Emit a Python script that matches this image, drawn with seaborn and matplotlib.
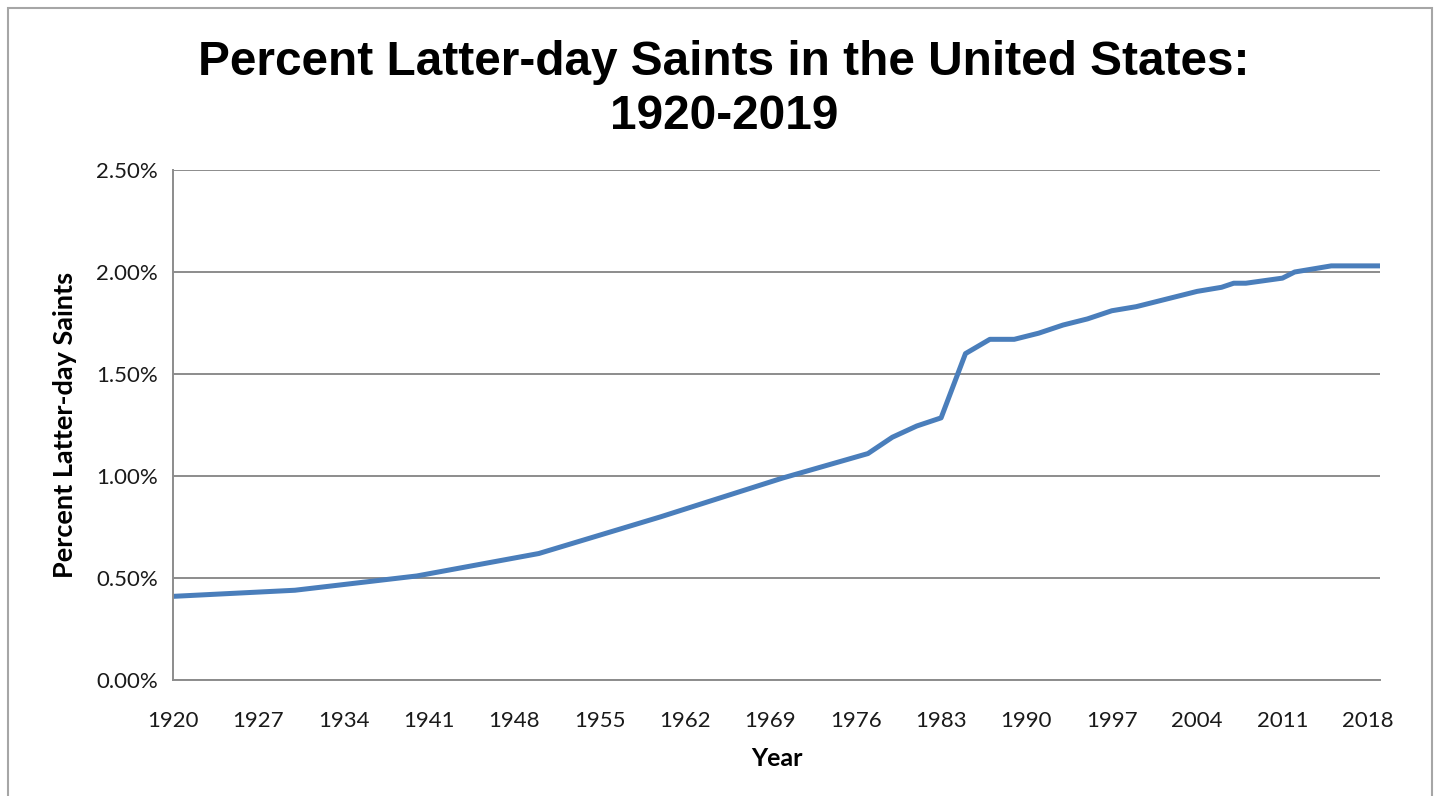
import seaborn as sns
import matplotlib.pyplot as plt
import pandas as pd
from matplotlib.patches import Rectangle
from matplotlib.ticker import FuncFormatter

# values (percent of US population)
years = [1920, 1930, 1940, 1950, 1960, 1970, 1977, 1979, 1981, 1983, 1985, 1987,
         1989, 1991, 1993, 1995, 1997, 1999, 2001, 2004, 2006, 2007, 2008, 2011,
         2012, 2015, 2019]
pct_lds = [0.41, 0.44, 0.51, 0.62, 0.80, 0.99, 1.11, 1.19, 1.245, 1.285, 1.60, 1.67,
           1.67, 1.70, 1.74, 1.77, 1.81, 1.83, 1.86, 1.905, 1.925, 1.945, 1.945, 1.97,
           2.00, 2.03, 2.03]
x_ticks = list(range(1920, 2019, 7))
y_ticks = [0.0, 0.5, 1.0, 1.5, 2.0, 2.5]

df = pd.DataFrame({"Year": years, "Percent": pct_lds})

sns.set_style("white")
plt.rcParams["font.family"] = ["Lato", "DejaVu Sans"]
plt.rcParams["text.color"] = "black"
plt.rcParams["axes.labelcolor"] = "black"

fig = plt.figure(figsize=(14.36, 7.96), dpi=100)
ax = fig.add_axes([173 / 1436, 116 / 796, 1207 / 1436, 510 / 796])

sns.lineplot(data=df, x="Year", y="Percent", ax=ax, color="#4a7ebb", linewidth=3.6)

ax.set_xlim(1920, 2019)
ax.set_ylim(0, 2.5)
ax.set_xticks(x_ticks)
ax.set_yticks(y_ticks)
ax.yaxis.set_major_formatter(FuncFormatter(lambda v, p: f"{v:.2f}%"))
ax.grid(axis="y", color="#8c8c8c", linewidth=1.4)
ax.set_axisbelow(True)

for side in ["top", "right"]:
    ax.spines[side].set_visible(False)
for side in ["left", "bottom"]:
    ax.spines[side].set_color("#8c8c8c")
    ax.spines[side].set_linewidth(1.4)

ax.tick_params(axis="both", direction="out", length=7, width=1.4, color="#8c8c8c",
               labelsize=16, labelcolor="#1a1a1a")
ax.tick_params(axis="x", pad=15)
ax.tick_params(axis="y", pad=4)

ax.set_xlabel("Year", fontsize=18, fontweight="bold", labelpad=12)
ax.set_ylabel("Percent Latter-day Saints", fontsize=19.5, fontweight="bold", labelpad=14)

fig.text(0.504, 0.888, "Percent Latter-day Saints in the United States:\n1920-2019",
         ha="center", va="center", fontsize=34.4, fontweight="bold",
         family=["Liberation Sans"], linespacing=1.25)

# chart border like the spreadsheet frame
fig.patches.append(Rectangle((8 / 1436, -0.01), 1424 / 1436, 788 / 796 + 0.01,
                             transform=fig.transFigure, fill=False,
                             edgecolor="#a6a6a6", linewidth=1.5))

fig.savefig("out.png", dpi=100)
